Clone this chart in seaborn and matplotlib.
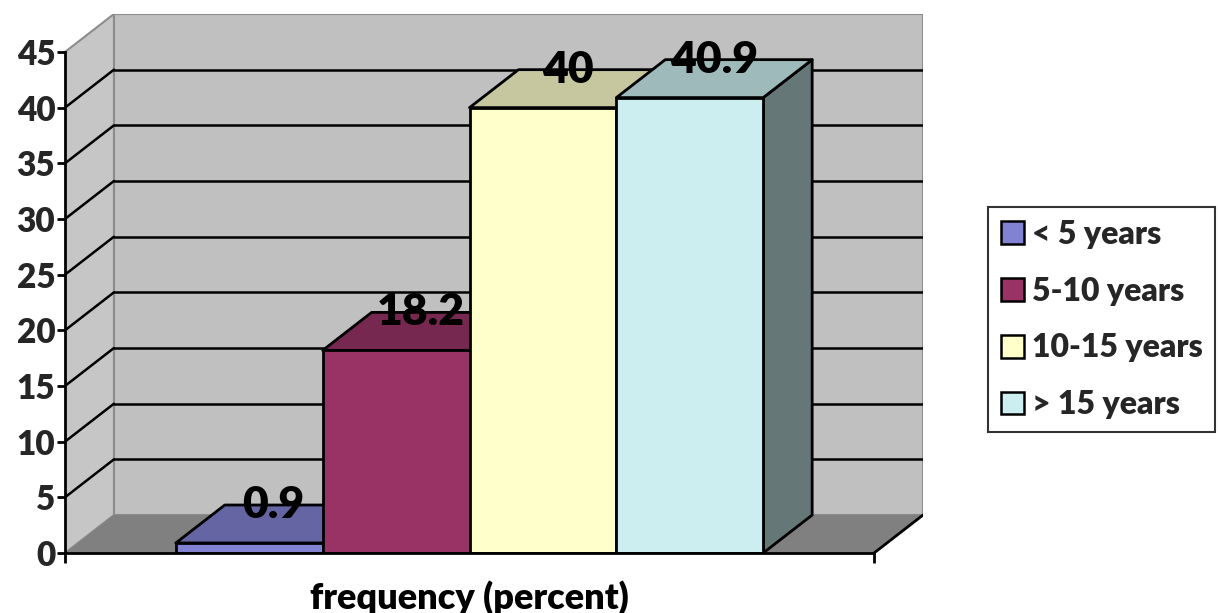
import numpy as np
import pandas as pd
import matplotlib
matplotlib.use("Agg")
import matplotlib.pyplot as plt
import matplotlib.transforms as mtransforms
from matplotlib.patches import Polygon, Patch
import seaborn as sns

# ---- data ----
group_label = "frequency (percent)"
categories = ["< 5 years", "5-10 years", "10-15 years", "> 15 years"]
values = [0.9, 18.2, 40.0, 40.9]
value_labels = ["0.9", "18.2", "40", "40.9"]
bar_colors = ["#8282D2", "#993366", "#FFFFCC", "#CCEEF0"]
y_ticks = [0, 5, 10, 15, 20, 25, 30, 35, 40, 45]

df = pd.DataFrame({"group": [group_label] * len(categories),
                   "category": categories,
                   "value": values})

sns.set_theme(style="white")
plt.rcParams["font.family"] = ["Lato", "DejaVu Sans"]
plt.rcParams["font.weight"] = "heavy"
WEIGHT = "heavy"

W, H = 1218, 613
fig = plt.figure(figsize=(W / 100, H / 100), dpi=100)
fig.patch.set_facecolor("white")

# axes covering front plane + depth
ax = fig.add_axes([65 / W, 1 - 553 / H, (923 - 65) / W, (553 - 14) / H])
ax.set_facecolor("none")

DX = 0.0605   # depth offset in x data units
DY = 3.41     # depth offset in y data units
YMAX = 45

sns.barplot(data=df, x="group", y="value", hue="category",
            hue_order=categories, palette=bar_colors, saturation=1,
            width=0.726, gap=0, edgecolor="black", linewidth=2,
            legend=False, ax=ax)

ax.set_xlim(-0.5, 0.5 + DX)
ax.set_ylim(0, YMAX + DY)

wall_edge = "#8C8C8C"
# back wall
ax.add_patch(Polygon([(-0.5 + DX, DY), (0.5 + DX, DY), (0.5 + DX, YMAX + DY),
                      (-0.5 + DX, YMAX + DY)], closed=True,
                     facecolor="#C0C0C0", edgecolor=wall_edge, lw=1.5, zorder=0.5))
# left side wall
ax.add_patch(Polygon([(-0.5, 0), (-0.5 + DX, DY), (-0.5 + DX, YMAX + DY),
                      (-0.5, YMAX)], closed=True,
                     facecolor="#C6C6C6", edgecolor=wall_edge, lw=1.5, zorder=0.5))
# floor
ax.add_patch(Polygon([(-0.5, 0), (0.5, 0), (0.5 + DX, DY), (-0.5 + DX, DY)],
                     closed=True, facecolor="#808080", edgecolor="none", zorder=0.55))
ax.plot([0.5, 0.5 + DX], [0, DY], color="black", lw=2, zorder=0.7, solid_capstyle="round")

# gridlines on back wall and side wall
for v in y_ticks[1:-1]:
    ax.plot([-0.5 + DX, 0.5 + DX], [v + DY, v + DY], color="black", lw=1.8, zorder=0.6)
    ax.plot([-0.5, -0.5 + DX], [v, v + DY], color="black", lw=1.8, zorder=0.6)

# 3D faces for bars
for i, container in enumerate(ax.containers):
    for rect in container.patches:
        l = rect.get_x()
        w = rect.get_width()
        h = rect.get_height()
        r = l + w
        fc = np.array(matplotlib.colors.to_rgb(rect.get_facecolor()))
        top_c = fc * 0.78
        side_c = fc * 0.5
        base_z = 3 + i * 0.1
        rect.set_zorder(base_z + 0.05)
        ax.add_patch(Polygon([(r, 0), (r + DX, DY), (r + DX, h + DY), (r, h)],
                             closed=True, facecolor=side_c, edgecolor="black",
                             lw=2, zorder=base_z, joinstyle="round"))
        ax.add_patch(Polygon([(l, h), (r, h), (r + DX, h + DY), (l + DX, h + DY)],
                             closed=True, facecolor=top_c, edgecolor="black",
                             lw=2, zorder=base_z, joinstyle="round"))
        ax.text(l + w / 2 + DX / 2, h + DY, value_labels[i], ha="center", va="center",
                fontsize=32, fontweight=WEIGHT, color="black", zorder=10)

# axes spines / ticks
for s in ["top", "right"]:
    ax.spines[s].set_visible(False)
ax.spines["left"].set_bounds(0, YMAX)
ax.spines["bottom"].set_bounds(-0.5, 0.5)
for s in ["left", "bottom"]:
    ax.spines[s].set_color("black")
    ax.spines[s].set_linewidth(2)
    ax.spines[s].set_zorder(5)

ax.set_yticks(y_ticks)
ax.set_yticklabels([str(t) for t in y_ticks])
ax.set_xticks([-0.5, 0.5])
ax.set_xticklabels(["", ""])
ax.tick_params(axis="y", direction="out", length=6, width=2, color="black",
               pad=1, labelsize=24, left=True)
ax.tick_params(axis="x", direction="out", length=7, width=2, color="black",
               bottom=True)
for lab in ax.get_yticklabels():
    lab.set_fontweight(WEIGHT)
ax.set_xlabel("")
ax.set_ylabel("")

trans = mtransforms.blended_transform_factory(ax.transData, fig.transFigure)
ax.text(0, 1 - 598 / H, group_label, transform=trans, ha="center", va="center",
        fontsize=26, fontweight=WEIGHT, color="black")

# legend
handles = [Patch(facecolor=c, edgecolor="black", lw=1.8, label=l)
           for c, l in zip(bar_colors, categories)]
leg = fig.legend(handles=handles, loc="upper left",
                 bbox_to_anchor=(988 / W, 1 - 207 / H), bbox_transform=fig.transFigure,
                 frameon=True, fancybox=False, prop={"weight": WEIGHT, "size": 23},
                 handlelength=0.72, handleheight=0.72, handletextpad=0.25,
                 labelspacing=0.87, borderpad=0.4, borderaxespad=0)
leg.get_frame().set_edgecolor("black")
leg.get_frame().set_linewidth(1.5)

fig.savefig("out.png", dpi=100, facecolor="white")
